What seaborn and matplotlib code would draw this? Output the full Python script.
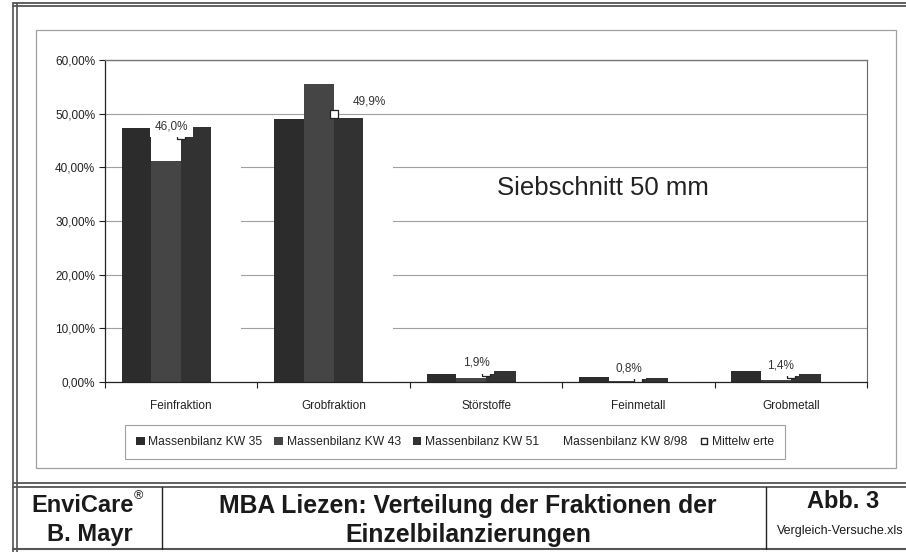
import matplotlib
matplotlib.use("Agg")
import matplotlib.pyplot as plt
import seaborn as sns
import pandas as pd
import numpy as np
from matplotlib.patches import Patch, Rectangle
from matplotlib.lines import Line2D
from matplotlib.ticker import FuncFormatter, MultipleLocator, FixedLocator

# values (percent)
categories = ["Feinfraktion", "Grobfraktion", "Störstoffe", "Feinmetall", "Grobmetall"]
series_names = ["Massenbilanz KW 35", "Massenbilanz KW 43",
                "Massenbilanz KW 51", "Massenbilanz KW 8/98"]
kw35 = [47.3, 49.0, 1.5, 1.0, 2.0]
kw43 = [41.2, 55.5, 0.7, 0.2, 0.3]
kw51 = [47.5, 49.1, 2.0, 0.8, 1.5]
kw8_98 = [48.0, 46.0, 3.4, 1.2, 1.8]   # drawn white in the original, estimated
mittelwerte = [46.0, 49.9, 1.9, 0.8, 1.4]
mittel_labels = ["46,0%", "49,9%", "1,9%", "0,8%", "1,4%"]

W, H = 906, 552

def fx(px):
    return px / W

def fy(py):
    return 1 - py / H

sns.set_theme(style="white")
plt.rcParams['font.family'] = ['Liberation Sans', 'DejaVu Sans']

df = pd.DataFrame({
    "Fraktion": categories * 4,
    "Serie": np.repeat(series_names, len(categories)),
    "Anteil": kw35 + kw43 + kw51 + kw8_98,
})
palette = {
    "Massenbilanz KW 35": "#2c2c2c",
    "Massenbilanz KW 43": "#454545",
    "Massenbilanz KW 51": "#323232",
    "Massenbilanz KW 8/98": "#ffffff",
}

fig = plt.figure(figsize=(W / 100, H / 100), dpi=100)
fig.patch.set_facecolor("white")
ax = fig.add_axes([fx(105), fy(382), fx(867) - fx(105), fy(60) - fy(382)])

sns.barplot(data=df, x="Fraktion", y="Anteil", hue="Serie", order=categories,
            hue_order=series_names, palette=palette, width=0.78, saturation=1,
            errorbar=None, linewidth=0, edgecolor="none", legend=False,
            zorder=2, ax=ax)

x_pos = np.arange(len(categories))
ax.scatter(x_pos, mittelwerte, marker="s", s=26, facecolor="white",
           edgecolor="#222222", linewidth=0.9, zorder=3)

for i, (v, lab) in enumerate(zip(mittelwerte, mittel_labels)):
    dx, dy = (-10, 9)
    if categories[i] == "Grobfraktion":
        dx, dy = (36, 13)
    ax.annotate(lab, (i, v), xytext=(dx, dy), textcoords="offset pixels",
                ha="center", va="center", fontsize=8.5, color="#333333",
                bbox=dict(boxstyle="square,pad=0.4", fc="white", ec="none"),
                zorder=4)

ax.text(0.514, 0.602, "Siebschnitt 50 mm", transform=ax.transAxes,
        fontsize=18.5, ha="left", va="center", color="#222222")

ax.set_xlim(-0.5, len(categories) - 0.5)
ax.set_ylim(0, 60)
ax.yaxis.set_major_locator(MultipleLocator(10))
ax.yaxis.set_major_formatter(FuncFormatter(lambda v, p: f"{v:.2f}%".replace(".", ",")))
ax.yaxis.grid(True, color="#a0a0a0", linewidth=0.8)
ax.set_axisbelow(True)
ax.xaxis.set_minor_locator(FixedLocator(np.arange(len(categories) + 1) - 0.5))
ax.tick_params(axis="x", which="major", length=0, pad=13, labelsize=8.5,
               labelcolor="#222222")
ax.tick_params(axis="x", which="minor", length=4, width=0.8, color="#222222",
               direction="out", bottom=True)
ax.tick_params(axis="y", length=4, width=0.8, color="#222222", direction="out",
               pad=3, labelsize=8.5, labelcolor="#222222", left=True)
ax.set_xlabel("")
ax.set_ylabel("")
for side in ["left", "bottom"]:
    ax.spines[side].set_color("#222222")
    ax.spines[side].set_linewidth(0.9)
ax.spines["top"].set_color("#777777")
ax.spines["top"].set_linewidth(1.0)
ax.spines["right"].set_color("#666666")
ax.spines["right"].set_linewidth(0.8)

handles = [Patch(facecolor=palette[s], edgecolor="none") for s in series_names[:3]]
handles.append(Patch(facecolor="white", edgecolor="none"))
handles.append(Line2D([], [], marker="s", linestyle="none", markerfacecolor="white",
                      markeredgecolor="#222222", markersize=5))
leg = fig.legend(handles, series_names + ["Mittelw erte"], loc="center",
                 bbox_to_anchor=(fx(455), fy(442)), ncol=5, frameon=True,
                 fancybox=False, shadow=False, edgecolor="#888888", fontsize=8.7,
                 handlelength=0.7, handleheight=0.7, handletextpad=0.3,
                 columnspacing=1.0, borderpad=0.9)
leg.get_frame().set_linewidth(0.8)
for t in leg.get_texts():
    t.set_color("#222222")

# frames of the scanned sheet
fig.add_artist(Rectangle((fx(36), fy(468)), fx(896) - fx(36), fy(30) - fy(468),
                         transform=fig.transFigure, fill=False, ec="#a0a0a0", lw=0.9))
for xv in [13, 17]:
    fig.add_artist(Line2D([fx(xv)] * 2, [0, fy(3)], transform=fig.transFigure,
                          color="#444444", lw=1.1))
for yv in [3, 6, 483, 487]:
    fig.add_artist(Line2D([fx(13), 1], [fy(yv)] * 2, transform=fig.transFigure,
                          color="#555555", lw=1.3))
fig.add_artist(Line2D([fx(13), 1], [fy(549)] * 2, transform=fig.transFigure,
                      color="#555555", lw=1.5))
for xv in [162, 766]:
    fig.add_artist(Line2D([fx(xv)] * 2, [fy(549), fy(487)], transform=fig.transFigure,
                          color="#222222", lw=1.0))

# title block
fig.text(fx(83), fy(506), "EnviCare", fontsize=17, fontweight="bold",
         ha="center", va="center", color="#1a1a1a")
fig.text(fx(134), fy(496), "®", fontsize=9, ha="left", va="center", color="#1a1a1a")
fig.text(fx(90), fy(535), "B. Mayr", fontsize=17, fontweight="bold",
         ha="center", va="center", color="#1a1a1a")
fig.text(fx(468), fy(506), "MBA Liezen: Verteilung der Fraktionen der", fontsize=17.8,
         fontweight="bold", ha="center", va="center", color="#1a1a1a")
fig.text(fx(468), fy(535), "Einzelbilanzierungen", fontsize=17.8,
         fontweight="bold", ha="center", va="center", color="#1a1a1a")
fig.text(fx(843), fy(501), "Abb. 3", fontsize=17, fontweight="bold",
         ha="center", va="center", color="#1a1a1a")
fig.text(fx(777), fy(531), "Vergleich-Versuche.xls", fontsize=9,
         ha="left", va="center", color="#1a1a1a")

fig.savefig("out.png", dpi=100)
